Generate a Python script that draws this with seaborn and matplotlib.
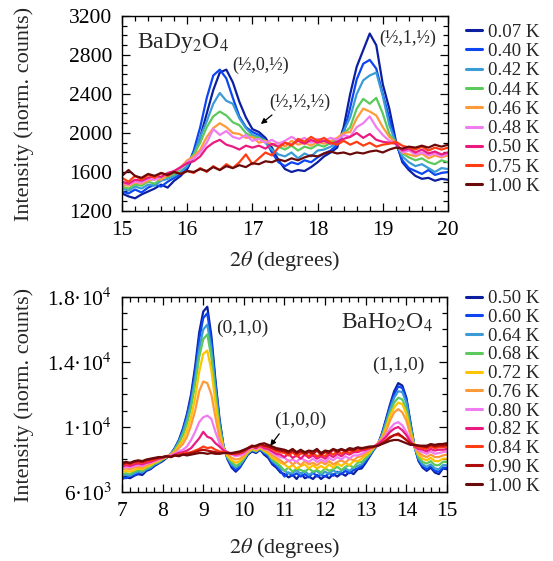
import numpy as np
import pandas as pd
import matplotlib
matplotlib.use("Agg")
import matplotlib.pyplot as plt
import seaborn as sns
from matplotlib.ticker import MultipleLocator, FixedLocator, FixedFormatter

# ---------------- BaDy2O4 scans (2theta = 15.0 ... 20.0, step 0.1) ----------------
tth_dy = np.round(np.linspace(15.0, 20.0, 51), 2)
dy_temps = ["0.07 K", "0.40 K", "0.42 K", "0.44 K", "0.46 K", "0.48 K", "0.50 K", "0.75 K", "1.00 K"]
dy_colors = ["#0b1fa0", "#0b46f2", "#3a9bd6", "#5cc95c", "#ff9a3a", "#f07df0", "#ea1a80", "#ff3c12", "#6a0a0a"]

dy_007 = [1380, 1350, 1330, 1370, 1400, 1430, 1470, 1440, 1510, 1560, 1630,
          1760, 1960, 2200, 2440, 2620, 2650, 2520, 2320, 2160, 2040,
          2010, 1950, 1850, 1720, 1630, 1600, 1620, 1610, 1650, 1700,
          1760, 1800, 1850, 2060, 2400, 2680, 2850, 3020, 2900, 2500,
          2250, 1920, 1700, 1620, 1560, 1530, 1540, 1510, 1530, 1520]
dy_040 = [1400, 1380, 1420, 1390, 1440, 1470, 1450, 1500, 1540, 1580, 1650,
          1820, 2060, 2360, 2590, 2650, 2560, 2360, 2170, 2060, 2010,
          1980, 1920, 1800, 1700, 1660, 1700, 1680, 1720, 1700, 1750,
          1790, 1820, 1880, 2000, 2260, 2550, 2710, 2750, 2660, 2400,
          2150, 1900, 1720, 1640, 1610, 1580, 1620, 1570, 1590, 1600]
dy_042 = [1430, 1410, 1450, 1430, 1470, 1460, 1510, 1530, 1560, 1600, 1660,
          1780, 1960, 2120, 2300, 2410, 2330, 2300, 2150, 2050, 1980,
          1960, 1900, 1830, 1780, 1760, 1800, 1740, 1790, 1760, 1820,
          1830, 1860, 1900, 2020, 2160, 2400, 2540, 2590, 2620, 2380,
          2080, 1900, 1760, 1700, 1660, 1680, 1640, 1600, 1640, 1630]
dy_044 = [1450, 1430, 1470, 1460, 1500, 1480, 1530, 1550, 1580, 1630, 1700,
          1780, 1900, 2060, 2170, 2220, 2180, 2110, 2080, 2000, 1960,
          1950, 1920, 1880, 1860, 1830, 1870, 1820, 1860, 1840, 1880,
          1860, 1900, 1940, 1990, 2060, 2250, 2350, 2300, 2360, 2200,
          1990, 1900, 1790, 1750, 1720, 1740, 1700, 1680, 1720, 1700]
dy_046 = [1470, 1460, 1490, 1480, 1510, 1530, 1520, 1570, 1600, 1650, 1720,
          1760, 1830, 1960, 2050, 2100, 2060, 2000, 1990, 1950, 1960,
          1900, 1920, 1880, 1900, 1860, 1920, 1880, 1900, 1870, 1910,
          1890, 1920, 1950, 2000, 2010, 2150, 2250, 2220, 2180, 2060,
          1960, 1900, 1800, 1780, 1760, 1790, 1740, 1770, 1750, 1770]
dy_048 = [1490, 1470, 1500, 1490, 1530, 1520, 1550, 1580, 1610, 1640, 1700,
          1740, 1800, 1900, 2040, 1980, 2020, 1960, 1940, 1980, 1920,
          1940, 1900, 1930, 1890, 1920, 1960, 1920, 1950, 1900, 1940,
          1920, 1950, 1930, 1980, 1960, 2060, 2100, 2170, 2060, 1980,
          1920, 1900, 1800, 1820, 1780, 1800, 1770, 1790, 1760, 1790]
dy_050 = [1500, 1480, 1520, 1510, 1540, 1560, 1550, 1590, 1610, 1650, 1690,
          1710, 1760, 1850, 1900, 1930, 1880, 1860, 1830, 1870, 1850,
          1870, 1840, 1890, 1860, 1900, 1880, 1920, 1890, 1930, 1900,
          1920, 1890, 1910, 1940, 1960, 2000, 1950, 1990, 1930, 1910,
          1900, 1890, 1820, 1840, 1800, 1830, 1790, 1810, 1780, 1800]
dy_075 = [1540, 1500, 1560, 1520, 1570, 1540, 1590, 1560, 1600, 1580, 1610,
          1590, 1640, 1600, 1660, 1620, 1680, 1640, 1700, 1780, 1680,
          1740, 1800, 1770, 1850, 1900, 1870, 1940, 1910, 1960, 1920,
          1950, 1900, 1880, 1920, 1880, 1910, 1870, 1900, 1860, 1880,
          1890, 1910, 1870, 1850, 1830, 1860, 1820, 1850, 1830, 1850]
dy_100 = [1560, 1620, 1560, 1540, 1580, 1560, 1590, 1570, 1600, 1580, 1610,
          1600, 1630, 1610, 1650, 1620, 1660, 1640, 1670, 1650, 1690,
          1680, 1710, 1700, 1730, 1710, 1740, 1720, 1750, 1770, 1760,
          1790, 1810, 1790, 1800, 1780, 1800, 1790, 1810, 1820, 1800,
          1830, 1850, 1840, 1860, 1850, 1870, 1850, 1880, 1860, 1880]
dy_series = [dy_007, dy_040, dy_042, dy_044, dy_046, dy_048, dy_050, dy_075, dy_100]

# ---------------- BaHo2O4 scans (2theta = 7.0 ... 15.0, step 0.1) ----------------
tth_ho = np.round(np.linspace(7.0, 15.0, 81), 2)
ho_temps = ["0.50 K", "0.60 K", "0.64 K", "0.68 K", "0.72 K", "0.76 K",
            "0.80 K", "0.82 K", "0.84 K", "0.90 K", "1.00 K"]
ho_colors = ["#0b1fa0", "#0b46f2", "#3a9bd6", "#5cc95c", "#ffc400", "#ff9a3a",
             "#f07df0", "#ea1a80", "#ff3c12", "#b00c0c", "#6a0a0a"]

ho_050 = [6800, 6900, 6850, 7000, 7100, 7050, 7300, 7400, 7600, 7750,
          7900, 8100, 8300, 8700, 9200, 9900, 10800, 12000, 13700, 15800,
          17100, 17400, 15600, 12900, 10500, 8800, 8000, 7500, 7250, 7500,
          7900, 8300, 8500, 8400, 8600, 8300, 8100, 7700, 7500, 7200,
          7100, 6900, 7050, 6800, 7150, 6850, 6950, 6800, 7050, 6800,
          7000, 6850, 7100, 6950, 7150, 7000, 7250, 7100, 7400, 7450,
          7800, 8200, 8600, 8900, 9600, 10500, 11400, 12200, 12700, 12550,
          11800, 10300, 8800, 7900, 7500, 7300, 7500, 7200, 7100, 7450,
          7400]
ho_060 = [6900, 6850, 7000, 7050, 7150, 7200, 7350, 7450, 7650, 7800,
          7950, 8150, 8350, 8700, 9150, 9800, 10700, 11800, 13400, 15400,
          16700, 17000, 15300, 12700, 10400, 8800, 8050, 7600, 7350, 7550,
          7950, 8350, 8550, 8450, 8650, 8400, 8200, 7800, 7600, 7300,
          6950, 7200, 7000, 7150, 6950, 7100, 6900, 7200, 6950, 7050,
          6950, 7150, 7000, 7250, 7100, 7300, 7150, 7350, 7450, 7600,
          7900, 8250, 8650, 8950, 9600, 10400, 11300, 12000, 12500, 12400,
          11700, 10200, 8800, 7950, 7600, 7400, 7600, 7300, 7250, 7500,
          7500]
ho_064 = [7000, 7050, 7000, 7150, 7250, 7200, 7400, 7500, 7700, 7800,
          8000, 8150, 8350, 8650, 9100, 9700, 10500, 11500, 13000, 14800,
          16000, 16300, 14800, 12400, 10200, 8800, 8100, 7700, 7500, 7650,
          8000, 8400, 8600, 8500, 8650, 8450, 8300, 7900, 7700, 7450,
          7300, 7150, 7150, 7350, 7100, 7300, 7050, 7200, 7300, 7050,
          7250, 7100, 7350, 7150, 7300, 7450, 7300, 7500, 7600, 7700,
          8000, 8300, 8650, 8950, 9500, 10300, 11100, 11800, 12200, 12150,
          11500, 10100, 8800, 8050, 7700, 7550, 7700, 7450, 7400, 7650,
          7650]
ho_068 = [7100, 7150, 7100, 7250, 7350, 7300, 7450, 7550, 7750, 7850,
          8000, 8150, 8300, 8600, 9000, 9500, 10200, 11200, 12600, 14300,
          15400, 15700, 14300, 12000, 10000, 8700, 8150, 7850, 7600, 7750,
          8050, 8400, 8600, 8500, 8700, 8500, 8350, 8000, 7800, 7600,
          7300, 7500, 7250, 7450, 7350, 7250, 7450, 7250, 7350, 7200,
          7450, 7300, 7400, 7550, 7350, 7550, 7650, 7500, 7800, 7850,
          8100, 8350, 8700, 8950, 9400, 10100, 10900, 11500, 11800, 11700,
          11100, 9900, 8800, 8150, 7850, 7750, 7900, 7650, 7650, 7850,
          7850]
ho_072 = [7200, 7300, 7250, 7350, 7450, 7400, 7550, 7650, 7800, 7900,
          8050, 8150, 8300, 8500, 8850, 9200, 9800, 10600, 11800, 13400,
          14500, 14700, 13500, 11500, 9700, 8700, 8200, 7950, 7800, 7900,
          8150, 8450, 8650, 8550, 8700, 8550, 8400, 8100, 7950, 7800,
          7700, 7500, 7650, 7450, 7600, 7700, 7450, 7650, 7450, 7600,
          7450, 7700, 7500, 7750, 7600, 7800, 7650, 7900, 7900, 8050,
          8250, 8450, 8750, 9000, 9350, 9950, 10700, 11200, 11500, 11400,
          10800, 9700, 8800, 8300, 8050, 7950, 8100, 7900, 7900, 8050,
          8050]
ho_076 = [7350, 7450, 7400, 7500, 7550, 7500, 7650, 7750, 7850, 7950,
          8100, 8200, 8300, 8450, 8700, 8950, 9400, 10100, 11000, 12200,
          12800, 12700, 12000, 10600, 9300, 8700, 8350, 8100, 8000, 8050,
          8250, 8500, 8700, 8600, 8750, 8600, 8500, 8250, 8100, 7950,
          7750, 7950, 7700, 7850, 7650, 7900, 7700, 7800, 7650, 7850,
          7700, 7900, 7700, 7850, 7950, 7800, 8050, 7950, 8150, 8200,
          8400, 8550, 8800, 9000, 9300, 9750, 10400, 10900, 11100, 10900,
          10400, 9500, 8800, 8450, 8250, 8150, 8300, 8150, 8150, 8250,
          8300]
ho_080 = [7450, 7550, 7500, 7600, 7650, 7600, 7750, 7800, 7900, 8000,
          8100, 8200, 8250, 8350, 8500, 8600, 8800, 9200, 9700, 10300,
          10600, 10700, 10500, 9700, 9000, 8600, 8450, 8300, 8200, 8250,
          8350, 8600, 8750, 8650, 8800, 8650, 8600, 8400, 8250, 8150,
          8100, 7900, 8000, 7850, 8100, 7950, 7850, 8050, 7850, 8000,
          7850, 8100, 7950, 8150, 8000, 8200, 8050, 8250, 8250, 8350,
          8500, 8650, 8800, 8950, 9200, 9500, 9900, 10200, 10300, 10100,
          9700, 9200, 8800, 8550, 8450, 8350, 8500, 8350, 8400, 8450,
          8500]
ho_082 = [7550, 7650, 7600, 7700, 7750, 7700, 7800, 7850, 7950, 8050,
          8100, 8200, 8200, 8300, 8400, 8450, 8550, 8700, 9000, 9300,
          9700, 9400, 9300, 9000, 8800, 8550, 8450, 8350, 8300, 8350,
          8450, 8650, 8800, 8700, 8850, 8700, 8650, 8500, 8350, 8300,
          8150, 8350, 8100, 8250, 8050, 8300, 8100, 8250, 8050, 8200,
          8050, 8300, 8150, 8350, 8200, 8400, 8300, 8450, 8450, 8550,
          8600, 8700, 8800, 8950, 9150, 9400, 9700, 9900, 10000, 9800,
          9500, 9100, 8800, 8650, 8600, 8500, 8650, 8550, 8600, 8600,
          8650]
ho_084 = [7650, 7750, 7700, 7800, 7850, 7800, 7900, 7950, 8000, 8100,
          8150, 8200, 8150, 8250, 8300, 8350, 8400, 8450, 8550, 8650,
          8800, 8700, 8750, 8600, 8500, 8450, 8400, 8350, 8350, 8400,
          8500, 8700, 8850, 8750, 8900, 8800, 8750, 8650, 8500, 8450,
          8400, 8250, 8450, 8200, 8350, 8400, 8200, 8400, 8200, 8300,
          8200, 8450, 8300, 8500, 8350, 8500, 8400, 8550, 8550, 8650,
          8650, 8700, 8750, 8850, 9000, 9200, 9400, 9500, 9500, 9400,
          9200, 9000, 8850, 8750, 8700, 8650, 8800, 8700, 8750, 8750,
          8800]
ho_090 = [7700, 7800, 7750, 7850, 7900, 7850, 7950, 8000, 8050, 8100,
          8150, 8200, 8150, 8250, 8250, 8300, 8350, 8400, 8450, 8550,
          8600, 8550, 8500, 8450, 8400, 8400, 8400, 8350, 8400, 8450,
          8550, 8700, 8850, 8800, 8950, 8850, 8800, 8700, 8600, 8550,
          8500, 8400, 8550, 8350, 8500, 8350, 8450, 8350, 8550, 8300,
          8450, 8400, 8600, 8450, 8600, 8500, 8600, 8550, 8700, 8650,
          8700, 8750, 8800, 8850, 9000, 9150, 9350, 9500, 9600, 9400,
          9200, 9000, 8900, 8850, 8800, 8750, 8900, 8800, 8850, 8850,
          8900]
ho_100 = [7800, 7850, 7800, 7900, 7950, 7900, 8000, 8050, 8100, 8150,
          8150, 8200, 8150, 8250, 8200, 8300, 8250, 8300, 8350, 8400,
          8400, 8350, 8400, 8350, 8350, 8400, 8400, 8400, 8450, 8500,
          8600, 8700, 8800, 8850, 8950, 9000, 8900, 8800, 8700, 8650,
          8600, 8500, 8650, 8450, 8600, 8450, 8550, 8500, 8650, 8400,
          8550, 8500, 8650, 8550, 8650, 8550, 8700, 8650, 8750, 8700,
          8750, 8800, 8800, 8850, 8950, 9050, 9150, 9200, 9200, 9100,
          9000, 8900, 8900, 8850, 8850, 8850, 8950, 8900, 8950, 8950,
          9000]
ho_series = [ho_050, ho_060, ho_064, ho_068, ho_072, ho_076,
             ho_080, ho_082, ho_084, ho_090, ho_100]

# axis ticks
dy_yticks = [1200, 1600, 2000, 2400, 2800, 3200]
ho_yticks = [6000, 10000, 14000, 18000]
ho_yticklabels = ["6·10$^3$", "1·10$^4$", "1.4·10$^4$", "1.8·10$^4$"]


def long_table(x, temps, series):
    frames = [pd.DataFrame({"tth": x, "I": vals, "T": t}) for t, vals in zip(temps, series)]
    return pd.concat(frames, ignore_index=True)


df_dy = long_table(tth_dy, dy_temps, dy_series)
df_ho = long_table(tth_ho, ho_temps, ho_series)

sns.set_theme(style="ticks")
plt.rcParams["font.family"] = ["Liberation Serif", "DejaVu Serif"]
plt.rcParams["mathtext.fontset"] = "stix"

fig = plt.figure(figsize=(5.53, 5.61), dpi=100)
ax1 = fig.add_axes([0.2206, 0.6239, 0.5895, 0.3476])
ax2 = fig.add_axes([0.2206, 0.1230, 0.5877, 0.3476])

sns.lineplot(data=df_dy, x="tth", y="I", hue="T", hue_order=dy_temps,
             palette=dict(zip(dy_temps, dy_colors)), estimator=None, sort=False,
             lw=1.6, ax=ax1)
sns.lineplot(data=df_ho, x="tth", y="I", hue="T", hue_order=ho_temps,
             palette=dict(zip(ho_temps, ho_colors)), estimator=None, sort=False,
             lw=1.6, ax=ax2)

tick_fs = 15.5
label_fs = 16
for ax in (ax1, ax2):
    for sp in ax.spines.values():
        sp.set_linewidth(1.0)
        sp.set_color("black")
    ax.tick_params(which="both", direction="in", top=True, right=True,
                   colors="black", labelsize=tick_fs, width=0.9)
    ax.tick_params(which="major", length=6, pad=7)
    ax.tick_params(which="minor", length=3.5)
    ax.set_ylabel("Intensity (norm. counts)", fontsize=label_fs)
    ax.set_xlabel(r"$2\theta$ (degrees)", fontsize=label_fs)
    ax.yaxis.label.set_va("center")
    ax.xaxis.label.set_va("center")
    ax.xaxis.set_major_locator(MultipleLocator(1))
    ax.xaxis.set_minor_locator(MultipleLocator(0.2))

ax1.yaxis.set_label_coords(-0.30, 0.5)
ax2.yaxis.set_label_coords(-0.30, 0.5)
ax1.xaxis.set_label_coords(0.5, -0.255)
ax2.xaxis.set_label_coords(0.5, -0.285)

ax1.set_xlim(15, 20)
ax1.set_ylim(1200, 3200)
ax1.yaxis.set_major_locator(FixedLocator(dy_yticks))
ax1.yaxis.set_minor_locator(MultipleLocator(100))

ax2.set_xlim(7, 15)
ax2.set_ylim(6000, 18000)
ax2.yaxis.set_major_locator(FixedLocator(ho_yticks))
ax2.yaxis.set_major_formatter(FixedFormatter(ho_yticklabels))
ax2.yaxis.set_minor_locator(MultipleLocator(1000))

# compound names
ax1.text(0.046, 0.86, "BaDy$_2$O$_4$", transform=ax1.transAxes, fontsize=17,
         ha="left", va="center")
ax2.text(0.957, 0.867, "BaHo$_2$O$_4$", transform=ax2.transAxes, fontsize=17,
         ha="right", va="center")

# reflection labels with pointer arrows
lab_fs = 13
arrow = dict(arrowstyle="-|>", color="black", lw=0.9, shrinkA=0, shrinkB=0,
             mutation_scale=8)
ax1.text(17.13, 2690, "(½,0,½)", fontsize=lab_fs, ha="center", va="center")
ax1.text(19.38, 2975, "(½,1,½)", fontsize=lab_fs, ha="center", va="center")
ax1.text(17.72, 2310, "(½,½,½)", fontsize=lab_fs, ha="center", va="center")
ax1.annotate("", xy=(17.13, 2092), xytext=(17.30, 2185), arrowprops=arrow)

ax2.text(9.97, 16100, "(0,1,0)", fontsize=lab_fs + 1, ha="center", va="center")
ax2.text(13.81, 13820, "(1,1,0)", fontsize=lab_fs + 1, ha="center", va="center")
ax2.text(11.38, 10430, "(1,0,0)", fontsize=lab_fs + 1, ha="center", va="center")
ax2.annotate("", xy=(10.65, 8840), xytext=(10.87, 9580), arrowprops=arrow)

# legends beside each panel
leg_fs = 13.6
for ax, x0, y0, sp in ((ax1, 1.055, 0.962, 0.11), (ax2, 1.058, 1.036, 0.08)):
    h, l = ax.get_legend_handles_labels()
    for hd in h:
        hd.set_linewidth(2.2)
    ax.legend(h, l, loc="upper left", bbox_to_anchor=(x0, y0), frameon=False,
              fontsize=leg_fs, handlelength=0.85, handletextpad=0.32,
              labelspacing=sp, borderaxespad=0.0, borderpad=0.0)

fig.savefig("out.png", dpi=100)
